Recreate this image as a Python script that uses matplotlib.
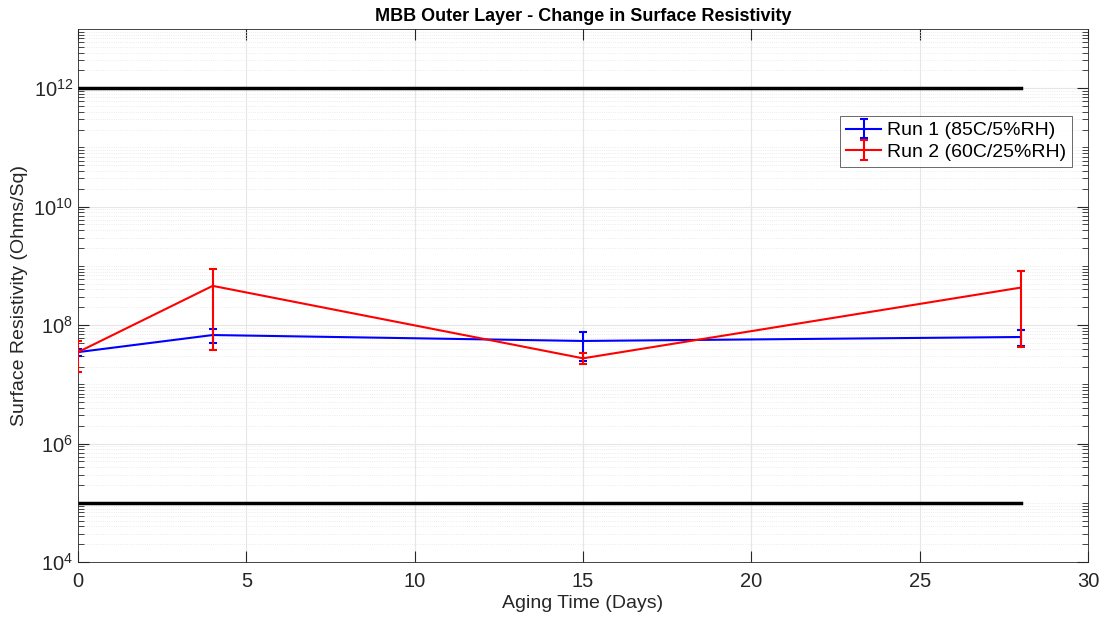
import matplotlib
matplotlib.use("Agg")
import matplotlib.pyplot as plt
from matplotlib.ticker import LogLocator, FuncFormatter, MultipleLocator, NullFormatter, FixedLocator
import numpy as np

plt.rcParams['font.family'] = ['Liberation Sans', 'DejaVu Sans']
plt.rcParams['mathtext.default'] = 'regular'

# aging time in days
days = [0, 4, 15, 28]

# Run 1 (85C/5%RH)
run1 = [3.5e7, 6.8e7, 5.4e7, 6.3e7]
run1_hi = [4.0e7, 8.7e7, 7.8e7, 8.3e7]
run1_lo = [3.0e7, 5.0e7, 2.5e7, 4.5e7]

# Run 2 (60C/25%RH)
run2 = [3.5e7, 4.6e8, 2.75e7, 4.3e8]
run2_hi = [5.4e7, 8.9e8, 3.4e7, 8.1e8]
run2_lo = [1.6e7, 3.8e7, 2.2e7, 4.3e7]

# spec limits
limit_x = [0, 28]
upper_limit = 1e12
lower_limit = 1e5

y_ticks = [1e4, 1e6, 1e8, 1e10, 1e12]

fig = plt.figure(figsize=(11.08, 6.26), dpi=100)
ax = fig.add_axes([0.0704, 0.1022, 0.9116, 0.8515])

def err(v, hi, lo):
    v = np.array(v); return [v - np.array(lo), np.array(hi) - v]

ax.errorbar(days, run1, yerr=err(run1, run1_hi, run1_lo), color='#0000ff', lw=1.5,
            capsize=3, capthick=1.5, elinewidth=1.5, label='Run 1 (85C/5%RH)', zorder=3)
ax.errorbar(days, run2, yerr=err(run2, run2_hi, run2_lo), color='#ff0000', lw=1.5,
            capsize=3, capthick=1.5, elinewidth=1.5, label='Run 2 (60C/25%RH)', zorder=4)
ax.plot(limit_x, [upper_limit] * 2, color='black', lw=2.5, zorder=2)
ax.plot(limit_x, [lower_limit] * 2, color='black', lw=2.5, zorder=2)

ax.set_yscale('log')
ax.set_xlim(0, 30)
ax.set_ylim(1e4, 1e13)
ax.xaxis.set_major_locator(MultipleLocator(5))
ax.yaxis.set_major_locator(FixedLocator(y_ticks))
minor = [m * 10.0 ** e for e in range(4, 13) for m in range(1, 10)]
minor = [v for v in minor if v not in y_ticks and v <= 1e13]
ax.yaxis.set_minor_locator(FixedLocator(minor))
ax.yaxis.set_minor_formatter(NullFormatter())
ax.yaxis.set_major_formatter(FuncFormatter(lambda v, p: '$10^{%d}$' % round(np.log10(v))))

ax.grid(True, which='major', color='#e6e6e6', lw=0.8, zorder=0)
ax.grid(True, which='minor', axis='y', color='#e6e6e6', lw=0.6, ls=':', zorder=0)
ax.set_axisbelow(True)
ax.tick_params(which='both', direction='in', top=True, right=True, colors='#262626', labelsize=14.5)
ax.tick_params(which='major', length=8)
ax.tick_params(which='minor', length=4)
ax.tick_params(axis='x', pad=7)
for s in ax.spines.values():
    s.set_color('#262626')
    s.set_linewidth(0.6)

ax.set_xlabel('Aging Time (Days)', fontsize=14, color='#262626', labelpad=3)
ax.set_ylabel('Surface Resistivity (Ohms/Sq)', fontsize=14, color='#262626')
ax.set_title('MBB Outer Layer - Change in Surface Resistivity', fontsize=13, fontweight='bold', pad=6)

leg = ax.legend(loc='upper right', bbox_to_anchor=(0.984, 0.837), fontsize=14, frameon=True,
                fancybox=False, edgecolor='#262626', borderpad=0.3, labelspacing=0.2,
                handlelength=1.8, handletextpad=0.3, borderaxespad=0)
leg.get_frame().set_linewidth(0.6)

fig.savefig('out.png', dpi=100)
